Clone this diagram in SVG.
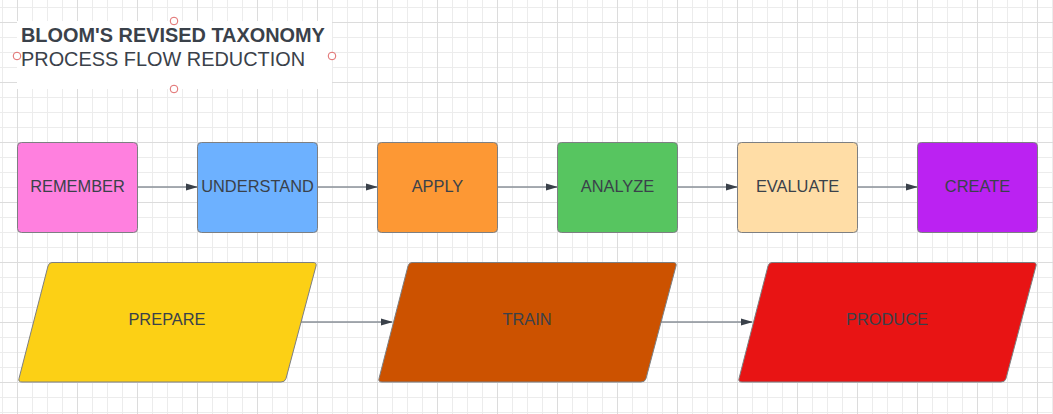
<svg xmlns="http://www.w3.org/2000/svg" width="1053" height="414" viewBox="0 0 1053 414">
<style>
.lbl{font-family:"Liberation Sans",Arial,sans-serif;font-size:16.4px;fill:#3a414a;text-anchor:middle}
.node{stroke:#7d7f82;stroke-width:1}
.conn{stroke:#8a9098;stroke-width:1.6;fill:none}
.title{font-family:"Liberation Sans",Arial,sans-serif;font-size:19.9px;fill:#3a414a}
.handle{fill:#ffffff;stroke:#e06a6a;stroke-width:1}
</style>
<defs>
<pattern id="minor" patternUnits="userSpaceOnUse" x="2" y="7" width="15" height="15">
<rect x="0" y="0" width="1" height="15" fill="#ececec"/>
<rect x="0" y="0" width="15" height="1" fill="#ececec"/>
</pattern>
<pattern id="major" patternUnits="userSpaceOnUse" x="17" y="22" width="60" height="60">
<rect x="0" y="0" width="1" height="60" fill="#dcdcdc"/>
<rect x="0" y="0" width="60" height="1" fill="#dcdcdc"/>
</pattern>
<marker id="arrow" viewBox="0 0 12 8" refX="11" refY="4" markerWidth="12" markerHeight="8" markerUnits="userSpaceOnUse" orient="auto">
<path d="M0,0.5 L12,4 L0,7.5 Z" fill="#3a414a"/>
</marker>
</defs>
<rect width="1053" height="414" fill="#ffffff"/>
<rect width="1053" height="414" fill="url(#minor)"/>
<rect width="1053" height="414" fill="url(#major)"/>

<g id="title">
<rect x="17" y="21" width="315" height="68" fill="#ffffff"/>
<text class="title" x="21" y="42.3" font-weight="bold">BLOOM'S REVISED TAXONOMY</text>
<text class="title" x="21" y="66">PROCESS FLOW REDUCTION</text>
<circle class="handle" cx="174" cy="21" r="3.8"/>
<circle class="handle" cx="17" cy="56" r="3.8"/>
<circle class="handle" cx="332" cy="56" r="3.8"/>
<circle class="handle" cx="174" cy="89" r="3.8"/>
</g>

<g id="connectors">
<line class="conn" x1="137" y1="187" x2="197" y2="187" marker-end="url(#arrow)"/>
<line class="conn" x1="317" y1="187" x2="377" y2="187" marker-end="url(#arrow)"/>
<line class="conn" x1="497" y1="187" x2="557" y2="187" marker-end="url(#arrow)"/>
<line class="conn" x1="677" y1="187" x2="737" y2="187" marker-end="url(#arrow)"/>
<line class="conn" x1="857" y1="187" x2="917" y2="187" marker-end="url(#arrow)"/>
<line class="conn" x1="301" y1="322" x2="392" y2="322" marker-end="url(#arrow)"/>
<line class="conn" x1="661" y1="322" x2="752" y2="322" marker-end="url(#arrow)"/>
</g>

<g id="remember">
<rect class="node" x="17.5" y="142.5" width="120" height="90" rx="4" fill="#ff80df"/>
<text class="lbl" x="77.5" y="191.5">REMEMBER</text>
</g>
<g id="understand">
<rect class="node" x="197.5" y="142.5" width="120" height="90" rx="4" fill="#6db1ff"/>
<text class="lbl" x="257.5" y="191.5">UNDERSTAND</text>
</g>
<g id="apply">
<rect class="node" x="377.5" y="142.5" width="120" height="90" rx="4" fill="#fd9834"/>
<text class="lbl" x="437.5" y="191.5">APPLY</text>
</g>
<g id="analyze">
<rect class="node" x="557.5" y="142.5" width="120" height="90" rx="4" fill="#57c560"/>
<text class="lbl" x="617.5" y="191.5">ANALYZE</text>
</g>
<g id="evaluate">
<rect class="node" x="737.5" y="142.5" width="120" height="90" rx="4" fill="#ffdda6"/>
<text class="lbl" x="797.5" y="191.5">EVALUATE</text>
</g>
<g id="create">
<rect class="node" x="917.5" y="142.5" width="120" height="90" rx="4" fill="#bb22f2"/>
<text class="lbl" x="977.5" y="191.5">CREATE</text>
</g>

<g id="prepare">
<path class="node" d="M52,262.5 L313,262.5 Q317,262.5 316,266 L286,378.5 Q285,382 281,382 L22,382 Q18,382 19,378.5 L48,266 Q49,262.5 52,262.5 Z" fill="#fcd015"/>
<text class="lbl" x="167" y="324.5">PREPARE</text>
</g>
<g id="train">
<path class="node" d="M412,262.5 L673,262.5 Q677,262.5 676,266 L646,378.5 Q645,382 641,382 L382,382 Q378,382 379,378.5 L408,266 Q409,262.5 412,262.5 Z" fill="#cc5200"/>
<text class="lbl" x="527" y="324.5">TRAIN</text>
</g>
<g id="produce">
<path class="node" d="M772,262.5 L1033,262.5 Q1037,262.5 1036,266 L1006,378.5 Q1005,382 1001,382 L742,382 Q738,382 739,378.5 L768,266 Q769,262.5 772,262.5 Z" fill="#e81414"/>
<text class="lbl" x="887" y="324.5">PRODUCE</text>
</g>
</svg>
